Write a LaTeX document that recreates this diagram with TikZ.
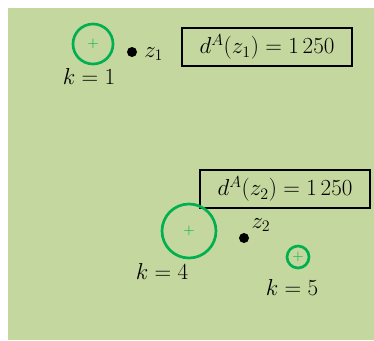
\documentclass[tikz,border=0pt]{standalone}
\usepackage{amsmath}
\definecolor{bgolive}{RGB}{196,215,158}
\definecolor{kgreen}{RGB}{0,176,80}
\newcommand{\pxu}{0.75pt}
\begin{document}
\begin{tikzpicture}[x=0.75pt,y=-0.75pt,
  ring/.style={circle,draw=kgreen,line width=2pt,inner sep=0pt,text=kgreen,font=\fontsize{11}{12}\selectfont},
  dot/.style={circle,fill=black,inner sep=0pt,minimum size=10*\pxu},
  lbl/.style={font=\fontsize{17}{20}\selectfont,inner sep=0pt},
  valbox/.style={draw=black,line width=1pt,minimum width=170*\pxu,minimum height=38*\pxu,inner sep=0pt,font=\fontsize{17}{20}\selectfont}]
\useasboundingbox (0,0) rectangle (374,340);
\fill[bgolive] (8,8) rectangle (374,340);
% cluster 1
\node[ring,minimum size=40*\pxu] (c1) at (93,44) {$+$};
\node[lbl] (k1) at (89,76) {$k=1$};
\node[dot] (z1) at (132,52) {};
\node[lbl,anchor=west] (z1l) at (144,54) {$z_1$};
\node[valbox] (b1) at (267,47) {$d^{A}(z_1)=1\,250$};
% cluster 2
\node[valbox] (b2) at (285,189) {$d^{A}(z_2)=1\,250$};
\node[ring,minimum size=54*\pxu] (c4) at (189,231) {$+$};
\node[lbl] (k4) at (162,271) {$k=4$};
\node[dot] (z2) at (244,238) {};
\node[lbl] (z2l) at (261,225) {$z_2$};
\node[ring,minimum size=22*\pxu] (c5) at (298,257) {$+$};
\node[lbl] (k5) at (292,287) {$k=5$};
\end{tikzpicture}
\end{document}
